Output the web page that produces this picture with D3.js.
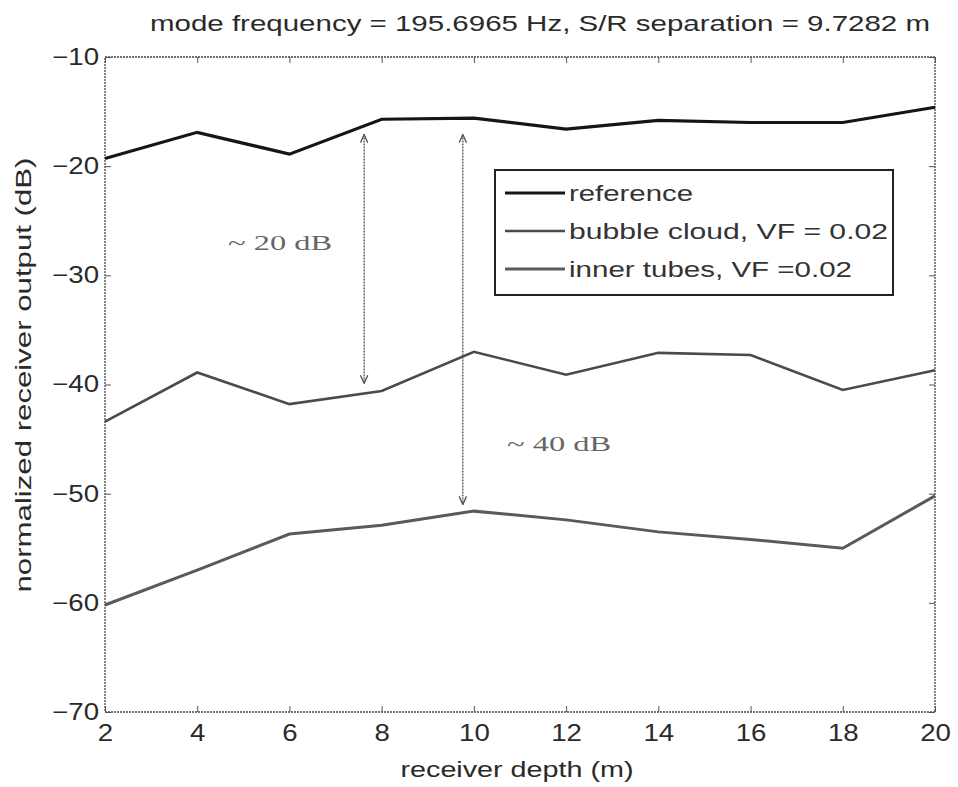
<!DOCTYPE html>
<html><head><meta charset="utf-8">
<script src="https://cdn.jsdelivr.net/npm/d3@7"></script>
<style>body{margin:0;background:#fff}</style>
</head><body>
<svg id="chart" width="958" height="787"></svg>
<script>
const depths = [2,4,6,8,10,12,14,16,18,20];
const referenceDb = [-19.3,-16.9,-18.9,-15.7,-15.6,-16.6,-15.8,-16.0,-16.0,-14.6];
const bubbleDb = [-43.4,-38.9,-41.8,-40.6,-37.0,-39.1,-37.1,-37.3,-40.5,-38.7];
const tubesDb = [-60.2,-57.0,-53.7,-52.9,-51.6,-52.4,-53.5,-54.2,-55.0,-50.2];
const seriesNames = ["reference","bubble cloud, VF = 0.02","inner tubes, VF =0.02"];
const xTicks = [2,4,6,8,10,12,14,16,18,20];
const yTicks = [-70,-60,-50,-40,-30,-20,-10];
const arrows = [{x:7.62, y1:-17.1, y2:-39.9, label:"~ 20 dB", lx:4.67, ly:-27.0},
                {x:9.76, y1:-17.1, y2:-51.0, label:"~ 40 dB", lx:10.72, ly:-45.4}];

const svg = d3.select("#chart");
const m = {l:105, r:935, t:57, b:712};
const x = d3.scaleLinear().domain([2,20]).range([m.l,m.r]);
const y = d3.scaleLinear().domain([-70,-10]).range([m.b,m.t]);
const ink = "#2a2a2a";
const font = "'Liberation Sans', Arial, sans-serif";
const stretch = (sel, f) => sel.each(function(){
  const w = this.getComputedTextLength();
  d3.select(this).attr("textLength", w*f).attr("lengthAdjust","spacingAndGlyphs");
});

// box
svg.append("rect").attr("x",m.l).attr("y",m.t).attr("width",m.r-m.l).attr("height",m.b-m.t)
  .attr("fill","none").attr("stroke","#444").attr("stroke-width",1.3).attr("stroke-dasharray","2,1");

// axes
const fmt = d => d < 0 ? "\u2212" + Math.abs(d) : String(d);
const xb = svg.append("g").attr("transform",`translate(0,${m.b})`)
  .call(d3.axisBottom(x).tickValues(xTicks).tickSize(-6).tickPadding(13).tickFormat(fmt));
const xt = svg.append("g").attr("transform",`translate(0,${m.t})`)
  .call(d3.axisTop(x).tickValues(xTicks).tickSize(-6).tickFormat(""));
const yl = svg.append("g").attr("transform",`translate(${m.l},0)`)
  .call(d3.axisLeft(y).tickValues(yTicks).tickSize(-6).tickPadding(6).tickFormat(fmt));
const yr = svg.append("g").attr("transform",`translate(${m.r},0)`)
  .call(d3.axisRight(y).tickValues(yTicks).tickSize(-6).tickFormat(""));
[xb,xt,yl,yr].forEach(g=>{
  g.select(".domain").remove();
  g.selectAll(".tick line").attr("stroke","#555").attr("stroke-width",1);
  g.selectAll("text").attr("font-family",font).attr("font-size",23).attr("fill",ink);
});
xb.selectAll("text").attr("dy","0.71em");
stretch(xb.selectAll("text"), 1.2);
stretch(yl.selectAll("text"), 1.2);

// lines
const line = d3.line().x((d,i)=>x(depths[i])).y(d=>y(d));
const styles = [{c:"#151515",w:3.2},{c:"#4a4a4a",w:2.6},{c:"#5a5a5a",w:3}];
[referenceDb,bubbleDb,tubesDb].forEach((s,k)=>{
  svg.append("path").datum(s).attr("d",line).attr("fill","none")
    .attr("stroke",styles[k].c).attr("stroke-width",styles[k].w).attr("stroke-linejoin","miter");
});

// arrows
const defs = svg.append("defs");
defs.append("marker").attr("id","ah").attr("viewBox","0 0 10 10").attr("refX",9).attr("refY",5)
  .attr("markerWidth",7).attr("markerHeight",7).attr("orient","auto-start-reverse")
  .append("path").attr("d","M0,1 L9,5 L0,9").attr("fill","none").attr("stroke","#555").attr("stroke-width",1.5);
arrows.forEach(a=>{
  svg.append("line").attr("x1",x(a.x)).attr("x2",x(a.x)).attr("y1",y(a.y1)).attr("y2",y(a.y2))
    .attr("stroke","#555").attr("stroke-width",1.3).attr("stroke-dasharray","2,1")
    .attr("marker-start","url(#ah)").attr("marker-end","url(#ah)");
  svg.append("text").attr("x",x(a.lx)).attr("y",y(a.ly)).attr("dy","0.35em")
    .attr("font-family","'Liberation Serif', 'DejaVu Serif', serif").attr("font-size",22)
    .attr("fill","#666").attr("textLength",104).attr("lengthAdjust","spacingAndGlyphs").text(a.label);
});

// legend
const lg = svg.append("g");
lg.append("rect").attr("x",495).attr("y",170).attr("width",398).attr("height",125)
  .attr("fill","#fff").attr("stroke","#222").attr("stroke-width",2);
const legendWidths = [124,319,283];
seriesNames.forEach((n,k)=>{
  const yy = 193 + k*38;
  lg.append("line").attr("x1",505).attr("x2",565).attr("y1",yy).attr("y2",yy)
    .attr("stroke",styles[k].c).attr("stroke-width",styles[k].w);
  lg.append("text").attr("x",569).attr("y",yy).attr("dy","0.35em").attr("font-family",font)
    .attr("font-size",22).attr("fill","#333")
    .attr("textLength",legendWidths[k]).attr("lengthAdjust","spacingAndGlyphs").text(n);
});

// title and axis labels
svg.append("text").attr("x",540).attr("y",31).attr("text-anchor","middle")
  .attr("font-family",font).attr("font-size",22).attr("fill",ink)
  .attr("textLength",780).attr("lengthAdjust","spacingAndGlyphs")
  .text("mode frequency = 195.6965 Hz, S/R separation = 9.7282 m");
svg.append("text").attr("x",517).attr("y",777).attr("text-anchor","middle")
  .attr("font-family",font).attr("font-size",22).attr("fill",ink)
  .attr("textLength",233).attr("lengthAdjust","spacingAndGlyphs").text("receiver depth (m)");
svg.append("text").attr("transform",`translate(31,375) rotate(-90)`).attr("text-anchor","middle")
  .attr("font-family",font).attr("font-size",22).attr("fill",ink)
  .attr("textLength",435).attr("lengthAdjust","spacingAndGlyphs").text("normalized receiver output (dB)");
</script>
</body></html>
